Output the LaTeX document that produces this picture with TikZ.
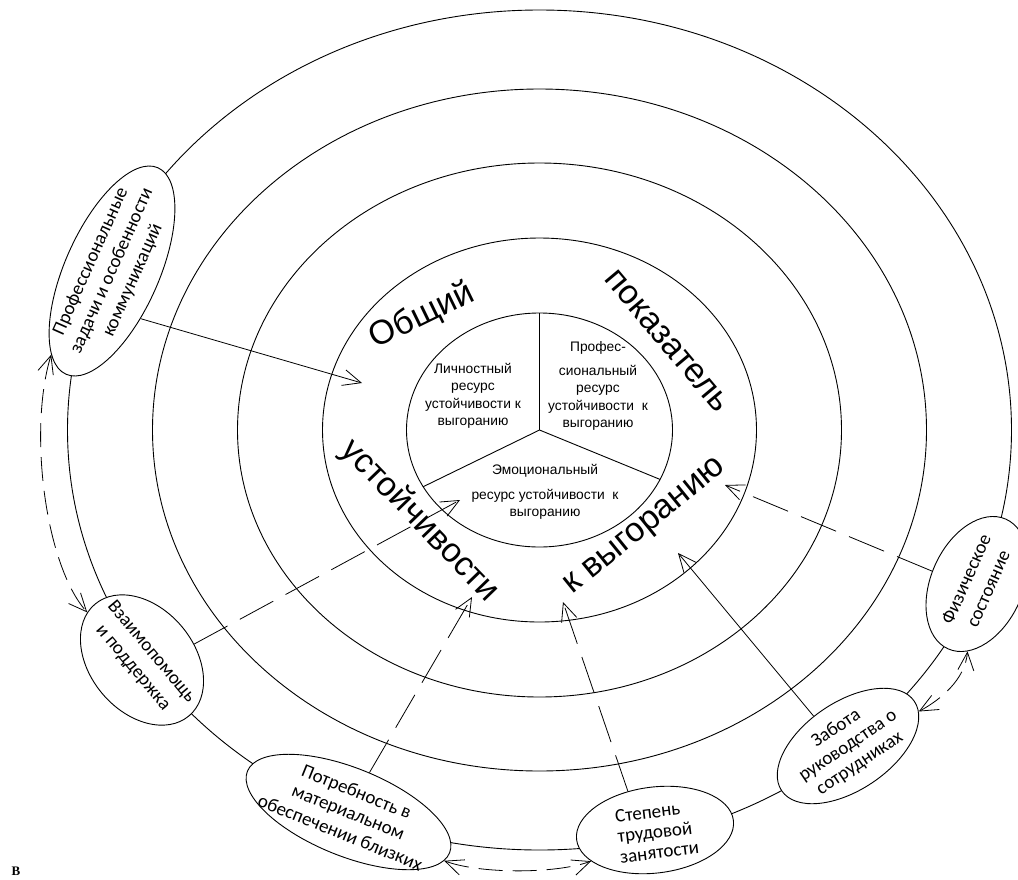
\documentclass[tikz,border=0pt]{standalone}
\usepackage{fontspec}
\setmainfont{Liberation Sans}
\newfontfamily\carl{Carlito}
\newfontfamily\serifbf{Liberation Serif}
\usetikzlibrary{arrows.meta,shapes.geometric}
\begin{document}
\begin{tikzpicture}[x=1pt,y=-1pt,
  ring/.style={draw,line width=0.9pt},
  sat/.style={ellipse,draw,fill=white,line width=0.9pt,inner sep=0pt},
  sattext/.style={inner sep=0pt,align=center,font=\carl\fontsize{19}{21}\selectfont},
  big/.style={inner sep=0pt,font=\fontsize{34}{40}\selectfont},
  sect/.style={inner sep=0pt,align=center,font=\fontsize{13.8}{17.5}\selectfont},
  tip/.style={-{Straight Barb[length=18pt,width=16pt]}},
  arr/.style={line width=0.8pt,tip},
  darr/.style={line width=0.8pt,tip,dash pattern=on 38pt off 14pt},
  ddarr/.style={line width=0.8pt,dash pattern=on 24pt off 10pt,{Straight Barb[length=18pt,width=16pt]}-{Straight Barb[length=18pt,width=16pt]}}
]
\useasboundingbox (0,0) rectangle (1018,879);
\coordinate (C) at (539.5,430);
% rings
\draw[ring] (C) ellipse[x radius=472pt, y radius=420pt];
\draw[ring] (C) ellipse[x radius=387pt, y radius=341pt];
\draw[ring] (C) ellipse[x radius=302pt, y radius=267pt];
\draw[ring] (C) ellipse[x radius=217pt, y radius=192pt];
\draw[ring] (C) ellipse[x radius=133pt, y radius=117pt];
% sectors
\coordinate (s1) at (539.5,313);
\coordinate (s2) at (423.2,486.7);
\coordinate (s3) at (660,479.4);
\draw[ring] (C) -- (s1);
\draw[ring] (C) -- (s2);
\draw[ring] (C) -- (s3);
\node[sect] (lich) at (473,396) {Личностный\\ресурс\\устойчивости к\\выгоранию};
\node[sect] (prres) at (598,386) {Профес-\\[6pt]сиональный\\ресурс\\устойчивости~ к\\выгоранию};
\node[sect] (emo) at (545,492) {Эмоциональный\\[7pt]ресурс устойчивости~ к\\выгоранию};
% big words
\node[big,rotate=26] (w1) at (422,316) {Общий};
\node[big,rotate=-50] (w2) at (667,341) {показатель};
\node[big,rotate=-46] (w3) at (420,521) {устойчивости};
\node[big,rotate=39] (w4) at (646,528) {к выгоранию};
% satellites
\node[sat,minimum width=226pt,minimum height=94pt,rotate=66] (prof) at (112,271) {};
\node[sattext,rotate=66,font=\carl\fontsize{19}{23}\selectfont] (profT) at (prof.center) {Профессиональные\\задачи и особенности\\коммуникаций};
\node[sat,minimum width=146pt,minimum height=104pt,rotate=-50] (vz) at (142,660) {};
\node[sattext,rotate=-50,font=\carl\fontsize{19}{24}\selectfont] (vzT) at (vz.center) {Взаимопомощь\\и поддержка};
\node[sat,minimum width=218pt,minimum height=88pt,rotate=-22] (pot) at (348.5,812) {};
\node[sattext,rotate=-22,font=\carl\fontsize{19}{22}\selectfont] (potT) at (pot.center) {Потребность в\\материальном\\обеспечении близких};
\node[sat,minimum width=158pt,minimum height=86pt,rotate=7] (st) at (655,830) {};
\node[sattext,rotate=7,align=left,font=\carl\fontsize{19}{20.5}\selectfont] (stT) at (657,832) {Степень\\трудовой\\занятости};
\node[sat,minimum width=160pt,minimum height=88pt,rotate=34] (zab) at (848,746) {};
\node[sattext,rotate=34] (zabT) at (zab.center) {Забота\\руководства о\\сотрудниках};
\node[sat,minimum width=142pt,minimum height=92pt,rotate=66] (fiz) at (977,584) {};
\node[sattext,rotate=66,font=\carl\fontsize{19}{24}\selectfont] (fizT) at (fiz.center) {Физическое\\состояние};
% arrow targets
\coordinate (t1) at (362,383);
\coordinate (t2) at (460,500);
\coordinate (t3) at (472,597);
\coordinate (t4) at (563,602);
\coordinate (t5) at (678,553);
\coordinate (t6) at (725,485);
\draw[arr] (prof.-125) -- (t1);
\draw[darr] (vz.67) -- (t2);
\draw[darr] (pot.84) -- (t3);
\draw[darr] (st.118) -- (t4);
\draw[arr] (zab.105) -- (t5);
\draw[darr] (fiz.98) -- (t6);
% outer double arrows
\draw[ddarr] (prof.168) .. controls (28,430) and (45,565) .. (vz.189);
\draw[ddarr] (pot.-5) .. controls (480,874) and (555,874) .. (st.199);
\draw[ddarr] (zab.-8) .. controls (940,700) and (965,680) .. (fiz.196);
\node[font=\serifbf\bfseries\fontsize{13}{15}\selectfont,inner sep=0pt] (lB) at (16,871) {В};
\end{tikzpicture}
\end{document}
